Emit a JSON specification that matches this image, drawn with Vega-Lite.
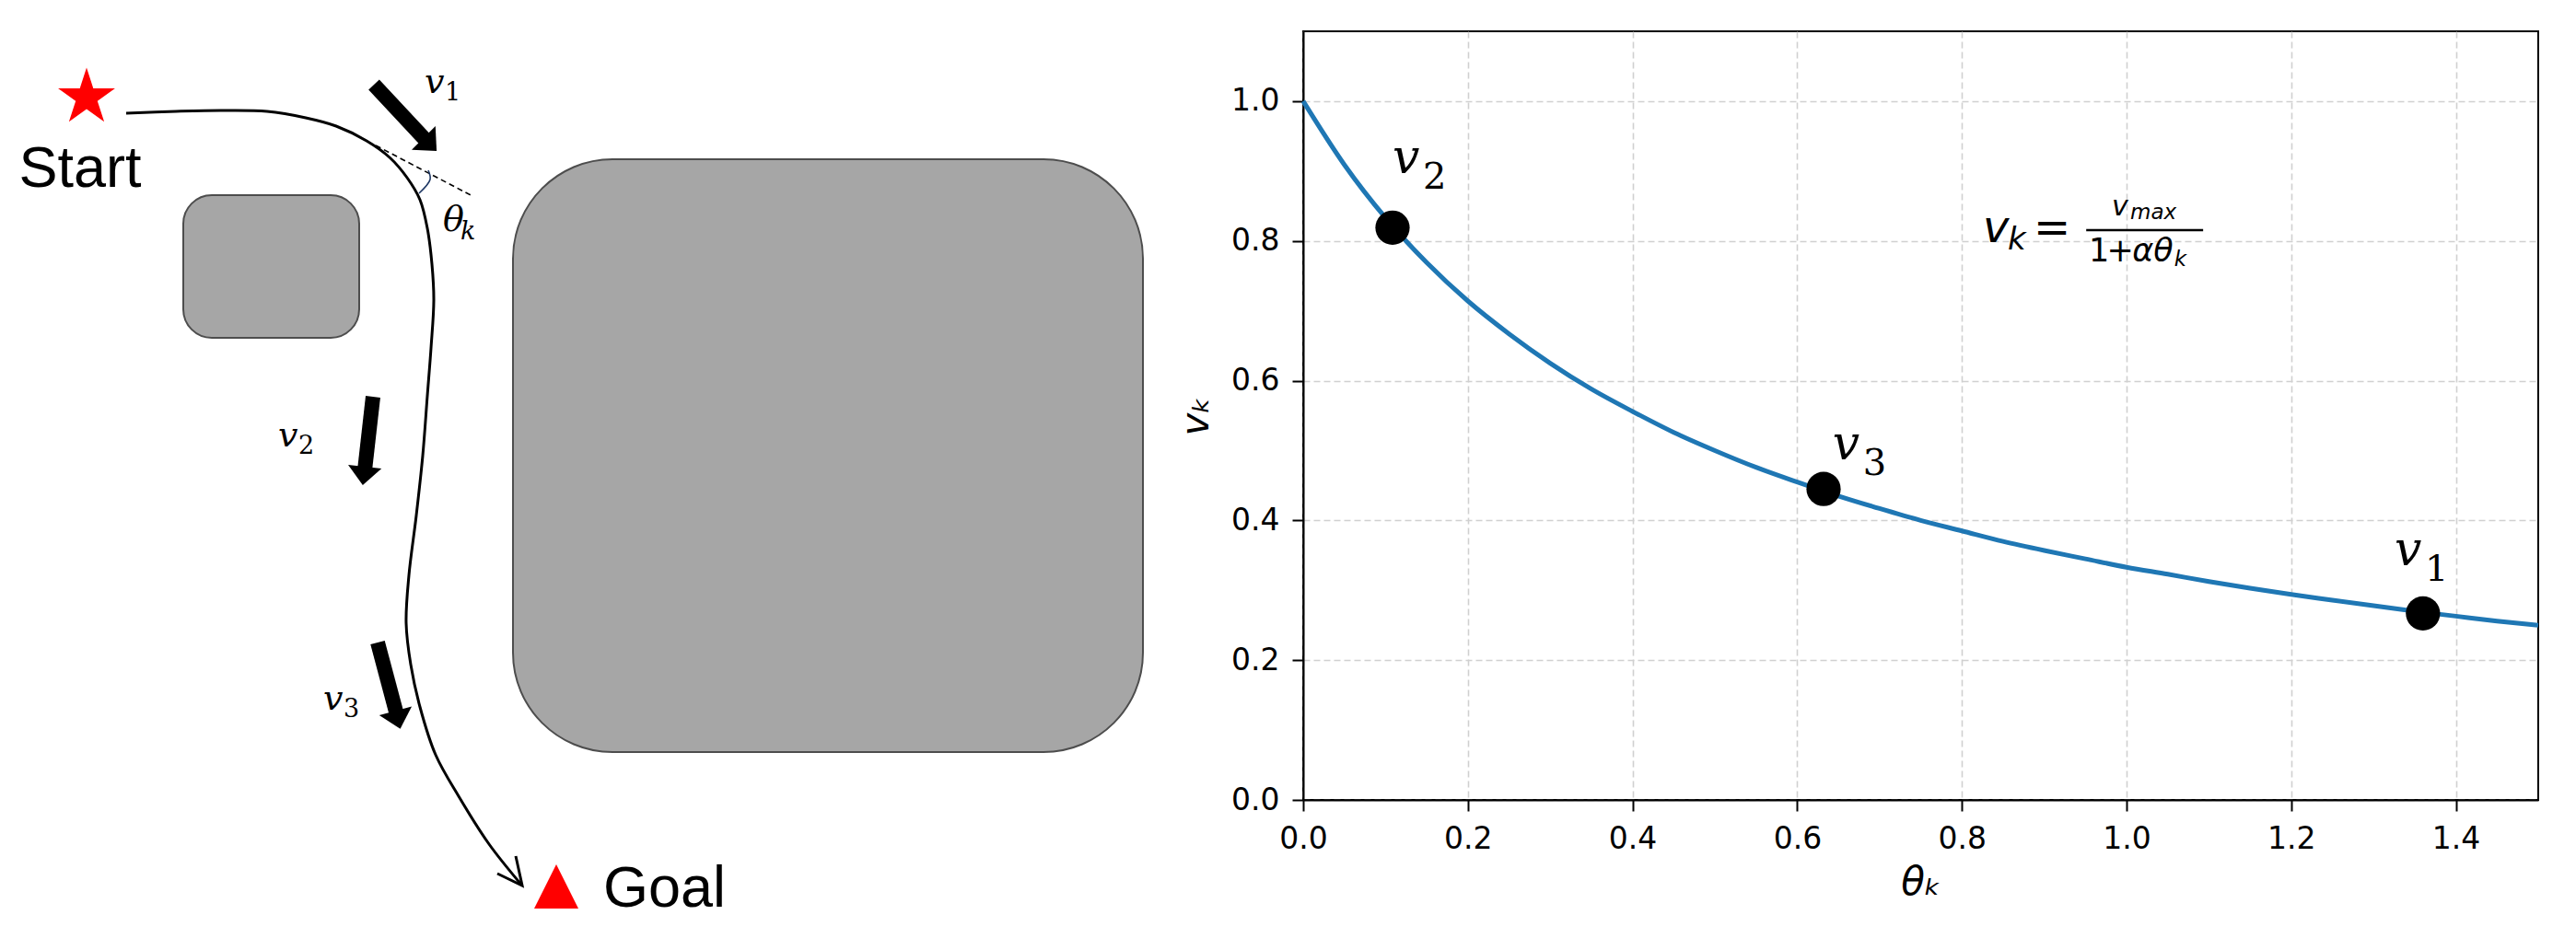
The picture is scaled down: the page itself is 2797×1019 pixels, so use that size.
{
  "$schema": "https://vega.github.io/schema/vega-lite/v6.json",
  "background": "white",
  "padding": {"left": 0, "top": 33, "right": 0, "bottom": 0},
  "bounds": "flush",
  "spacing": 115,
  "datasets": {
    "obstacles": [
      {"name": "small", "x": 199, "x2": 390, "y": 211, "y2": 366},
      {"name": "big", "x": 557, "x2": 1241, "y": 172, "y2": 816}
    ],
    "path": [
      {"i": 1, "x": 137, "y": 122}, {"i": 2, "x": 191, "y": 120}, {"i": 3, "x": 240, "y": 119},
      {"i": 4, "x": 290, "y": 120}, {"i": 5, "x": 332, "y": 127}, {"i": 6, "x": 365, "y": 136},
      {"i": 7, "x": 398, "y": 152}, {"i": 8, "x": 423, "y": 170}, {"i": 9, "x": 442, "y": 192},
      {"i": 10, "x": 456, "y": 216}, {"i": 11, "x": 464, "y": 247}, {"i": 12, "x": 469, "y": 286},
      {"i": 13, "x": 471, "y": 325}, {"i": 14, "x": 468, "y": 377}, {"i": 15, "x": 464, "y": 429},
      {"i": 16, "x": 459, "y": 494}, {"i": 17, "x": 452, "y": 559}, {"i": 18, "x": 444, "y": 624},
      {"i": 19, "x": 441, "y": 676}, {"i": 20, "x": 446, "y": 721}, {"i": 21, "x": 456, "y": 767},
      {"i": 22, "x": 473, "y": 819}, {"i": 23, "x": 498, "y": 864}, {"i": 24, "x": 531, "y": 916},
      {"i": 25, "x": 566, "y": 960}
    ],
    "chevron": [
      {"i": 1, "x": 560, "y": 929}, {"i": 2, "x": 567, "y": 961}, {"i": 3, "x": 540, "y": 948}
    ],
    "arrows": [
      {"name": "v1", "x": 406, "y": 91, "x2": 462, "y2": 151, "hx": 467, "hy": 156, "heading": -45},
      {"name": "v2", "x": 405, "y": 430, "x2": 396, "y2": 510, "hx": 395, "hy": 516, "heading": 6.5},
      {"name": "v3", "x": 410, "y": 697, "x2": 431, "y2": 776, "hx": 432, "hy": 781, "heading": -14.9}
    ],
    "tangent": [{"x": 408, "y": 157, "x2": 513, "y2": 212}],
    "arc": [{"i": 1, "x": 465, "y": 184}, {"i": 2, "x": 467, "y": 194}, {"i": 3, "x": 455, "y": 209}],
    "markers": [
      {"name": "Start", "x": 94, "y": 105},
      {"name": "Goal", "x": 604, "y": 962}
    ],
    "words": [
      {"t": "Start", "x": 87, "y": 202},
      {"t": "Goal", "x": 655, "y": 984}
    ],
    "leftLabels": [
      {"m": "v", "s": "1", "x": 461, "y": 100},
      {"m": "v", "s": "2", "x": 302, "y": 484},
      {"m": "v", "s": "3", "x": 351, "y": 770},
      {"m": "θ", "s": "k", "x": 481, "y": 250}
    ],
    "curve": [
      {"th": 0.0, "v": 1.0}, {"th": 0.05, "v": 0.909}, {"th": 0.1, "v": 0.833}, {"th": 0.15, "v": 0.769},
      {"th": 0.2, "v": 0.714}, {"th": 0.25, "v": 0.667}, {"th": 0.3, "v": 0.625}, {"th": 0.35, "v": 0.588},
      {"th": 0.4, "v": 0.556}, {"th": 0.45, "v": 0.526}, {"th": 0.5, "v": 0.5}, {"th": 0.55, "v": 0.476},
      {"th": 0.6, "v": 0.455}, {"th": 0.65, "v": 0.435}, {"th": 0.7, "v": 0.417}, {"th": 0.75, "v": 0.4},
      {"th": 0.8, "v": 0.385}, {"th": 0.85, "v": 0.37}, {"th": 0.9, "v": 0.357}, {"th": 0.95, "v": 0.345},
      {"th": 1.0, "v": 0.333}, {"th": 1.05, "v": 0.323}, {"th": 1.1, "v": 0.3125}, {"th": 1.15, "v": 0.303},
      {"th": 1.2, "v": 0.294}, {"th": 1.25, "v": 0.286}, {"th": 1.3, "v": 0.278}, {"th": 1.35, "v": 0.27},
      {"th": 1.4, "v": 0.263}, {"th": 1.45, "v": 0.256}, {"th": 1.5, "v": 0.25}
    ],
    "points": [
      {"name": "v2", "th": 0.1085, "v": 0.819},
      {"name": "v3", "th": 0.632, "v": 0.445},
      {"name": "v1", "th": 1.36, "v": 0.267}
    ],
    "pointLabels": [
      {"m": "v", "s": "2", "th": 0.1085, "v": 0.897},
      {"m": "v", "s": "3", "th": 0.643, "v": 0.4874},
      {"m": "v", "s": "1", "th": 1.3255, "v": 0.336}
    ],
    "formula": [
      {"role": "lhs_v", "t": "v", "th": 0.8255, "v": 0.798},
      {"role": "lhs_k", "t": "k", "th": 0.8557, "v": 0.788},
      {"role": "eq", "t": "=", "th": 0.887, "v": 0.798},
      {"role": "num_v", "t": "v", "th": 0.982, "v": 0.8365},
      {"role": "num_max", "t": "max", "th": 1.0045, "v": 0.831},
      {"role": "den_1", "t": "1", "th": 0.954, "v": 0.7707},
      {"role": "den_plus", "t": "+", "th": 0.976, "v": 0.7707},
      {"role": "den_ab", "t": "αθ", "th": 1.007, "v": 0.7707},
      {"role": "den_k", "t": "k", "th": 1.058, "v": 0.7642}
    ],
    "bar": [{"th": 0.951, "th2": 1.093, "v": 0.8154}]
  },
  "hconcat": [
    {
      "width": 1300,
      "height": 986,
      "encoding": {
        "x": {"field": "x", "type": "quantitative", "scale": {"domain": [0, 1300], "nice": false, "zero": false}, "axis": null},
        "y": {"field": "y", "type": "quantitative", "scale": {"domain": [33, 1019], "reverse": true, "nice": false, "zero": false}, "axis": null}
      },
      "layer": [
        {
          "data": {"name": "obstacles"},
          "transform": [{"filter": "datum.name === 'small'"}],
          "mark": {"type": "rect", "cornerRadius": 31, "fill": "#a6a6a6", "stroke": "#4d4d4d", "strokeWidth": 2},
          "encoding": {"x2": {"field": "x2"}, "y2": {"field": "y2"}}
        },
        {
          "data": {"name": "obstacles"},
          "transform": [{"filter": "datum.name === 'big'"}],
          "mark": {"type": "rect", "cornerRadius": 108, "fill": "#a6a6a6", "stroke": "#4d4d4d", "strokeWidth": 2},
          "encoding": {"x2": {"field": "x2"}, "y2": {"field": "y2"}}
        },
        {
          "data": {"name": "path"},
          "mark": {"type": "line", "color": "black", "strokeWidth": 3, "interpolate": "catmull-rom"},
          "encoding": {"order": {"field": "i", "type": "quantitative"}}
        },
        {
          "data": {"name": "chevron"},
          "mark": {"type": "line", "color": "black", "strokeWidth": 3, "strokeJoin": "miter"},
          "encoding": {"order": {"field": "i", "type": "quantitative"}}
        },
        {
          "data": {"name": "tangent"},
          "mark": {"type": "rule", "color": "black", "strokeWidth": 1.6, "strokeDash": [6, 4]},
          "encoding": {"x2": {"field": "x2"}, "y2": {"field": "y2"}}
        },
        {
          "data": {"name": "arc"},
          "mark": {"type": "line", "color": "#1f3864", "strokeWidth": 1.6, "interpolate": "catmull-rom"},
          "encoding": {"order": {"field": "i", "type": "quantitative"}}
        },
        {
          "data": {"name": "arrows"},
          "mark": {"type": "rule", "color": "black", "strokeWidth": 16, "strokeCap": "butt"},
          "encoding": {"x2": {"field": "x2"}, "y2": {"field": "y2"}}
        },
        {
          "data": {"name": "arrows"},
          "mark": {"type": "point", "shape": "M-1,-0.55L0,0.55L1,-0.55Z", "filled": true, "color": "black", "opacity": 1, "size": 1330, "strokeWidth": 0},
          "encoding": {
            "x": {"field": "hx", "type": "quantitative"},
            "y": {"field": "hy", "type": "quantitative"},
            "angle": {"field": "heading", "type": "quantitative", "scale": null}
          }
        },
        {
          "data": {"name": "markers"},
          "transform": [{"filter": "datum.name === 'Start'"}],
          "mark": {"type": "point", "shape": "M0,-1L0.2245,-0.309L0.951,-0.309L0.363,0.118L0.588,0.809L0,0.382L-0.588,0.809L-0.363,0.118L-0.951,-0.309L-0.2245,-0.309Z", "filled": true, "color": "#ff0000", "opacity": 1, "size": 4230, "strokeWidth": 0}
        },
        {
          "data": {"name": "markers"},
          "transform": [{"filter": "datum.name === 'Goal'"}],
          "mark": {"type": "point", "shape": "M0,-1L1,1L-1,1Z", "filled": true, "color": "#ff0000", "opacity": 1, "size": 2304, "strokeWidth": 0}
        },
        {
          "data": {"name": "words"},
          "transform": [{"filter": "datum.t === 'Start'"}],
          "mark": {"type": "text", "font": "Liberation Sans", "fontSize": 63, "align": "center", "baseline": "alphabetic", "color": "black"},
          "encoding": {"text": {"field": "t"}}
        },
        {
          "data": {"name": "words"},
          "transform": [{"filter": "datum.t === 'Goal'"}],
          "mark": {"type": "text", "font": "Liberation Sans", "fontSize": 63, "align": "left", "baseline": "alphabetic", "color": "black"},
          "encoding": {"text": {"field": "t"}}
        },
        {
          "data": {"name": "leftLabels"},
          "mark": {"type": "text", "font": "DejaVu Serif", "fontStyle": "italic", "fontSize": 38, "align": "left", "baseline": "alphabetic", "color": "black"},
          "encoding": {"text": {"field": "m"}}
        },
        {
          "data": {"name": "leftLabels"},
          "transform": [{"filter": "datum.s !== 'k'"}],
          "mark": {"type": "text", "font": "DejaVu Serif", "fontSize": 27, "align": "left", "baseline": "alphabetic", "dx": 22, "dy": 8, "color": "black"},
          "encoding": {"text": {"field": "s"}}
        },
        {
          "data": {"name": "leftLabels"},
          "transform": [{"filter": "datum.s === 'k'"}],
          "mark": {"type": "text", "font": "DejaVu Serif", "fontStyle": "italic", "fontSize": 27, "align": "left", "baseline": "alphabetic", "dx": 19, "dy": 9, "color": "black"},
          "encoding": {"text": {"field": "s"}}
        }
      ]
    },
    {
      "width": 1341,
      "height": 835,
      "view": {"stroke": "black", "strokeWidth": 2},
      "encoding": {
        "x": {
          "field": "th", "type": "quantitative",
          "scale": {"domain": [0, 1.5], "nice": false, "zero": false},
          "axis": {"values": [0, 0.2, 0.4, 0.6, 0.8, 1.0, 1.2, 1.4], "format": ".1f", "title": "θₖ", "titleFontStyle": "italic", "titlePadding": 10}
        },
        "y": {
          "field": "v", "type": "quantitative",
          "scale": {"domain": [0, 1.1], "nice": false, "zero": false},
          "axis": {"values": [0, 0.2, 0.4, 0.6, 0.8, 1.0], "format": ".1f", "title": "vₖ", "titleFontStyle": "italic", "titlePadding": 16}
        }
      },
      "layer": [
        {
          "data": {"name": "curve"},
          "mark": {"type": "line", "color": "#1f77b4", "strokeWidth": 5, "interpolate": "monotone"}
        },
        {
          "data": {"name": "points"},
          "mark": {"type": "point", "shape": "circle", "filled": true, "color": "black", "opacity": 1, "size": 1385}
        },
        {
          "data": {"name": "pointLabels"},
          "mark": {"type": "text", "font": "DejaVu Serif", "fontStyle": "italic", "fontSize": 52, "align": "left", "baseline": "alphabetic", "color": "black"},
          "encoding": {"text": {"field": "m"}}
        },
        {
          "data": {"name": "pointLabels"},
          "mark": {"type": "text", "font": "DejaVu Serif", "fontSize": 40, "align": "left", "baseline": "alphabetic", "dx": 33, "dy": 17, "color": "black"},
          "encoding": {"text": {"field": "s"}}
        },
        {
          "data": {"name": "formula"},
          "transform": [{"filter": "datum.role === 'lhs_v'"}],
          "mark": {"type": "text", "fontStyle": "italic", "fontSize": 48, "align": "left", "baseline": "alphabetic", "color": "black"},
          "encoding": {"text": {"field": "t"}}
        },
        {
          "data": {"name": "formula"},
          "transform": [{"filter": "datum.role === 'lhs_k'"}],
          "mark": {"type": "text", "fontStyle": "italic", "fontSize": 34, "align": "left", "baseline": "alphabetic", "color": "black"},
          "encoding": {"text": {"field": "t"}}
        },
        {
          "data": {"name": "formula"},
          "transform": [{"filter": "datum.role === 'eq'"}],
          "mark": {"type": "text", "fontSize": 48, "align": "left", "baseline": "alphabetic", "color": "black"},
          "encoding": {"text": {"field": "t"}}
        },
        {
          "data": {"name": "formula"},
          "transform": [{"filter": "datum.role === 'num_v'"}],
          "mark": {"type": "text", "fontStyle": "italic", "fontSize": 30, "align": "left", "baseline": "alphabetic", "color": "black"},
          "encoding": {"text": {"field": "t"}}
        },
        {
          "data": {"name": "formula"},
          "transform": [{"filter": "datum.role === 'num_max' || datum.role === 'den_k'"}],
          "mark": {"type": "text", "fontStyle": "italic", "fontSize": 23, "align": "left", "baseline": "alphabetic", "color": "black"},
          "encoding": {"text": {"field": "t"}}
        },
        {
          "data": {"name": "formula"},
          "transform": [{"filter": "datum.role === 'den_1' || datum.role === 'den_plus'"}],
          "mark": {"type": "text", "fontSize": 35, "align": "left", "baseline": "alphabetic", "color": "black"},
          "encoding": {"text": {"field": "t"}}
        },
        {
          "data": {"name": "formula"},
          "transform": [{"filter": "datum.role === 'den_ab'"}],
          "mark": {"type": "text", "fontStyle": "italic", "fontSize": 35, "align": "left", "baseline": "alphabetic", "color": "black"},
          "encoding": {"text": {"field": "t"}}
        },
        {
          "data": {"name": "bar"},
          "mark": {"type": "rule", "color": "black", "strokeWidth": 2.5},
          "encoding": {"x2": {"field": "th2"}}
        }
      ]
    }
  ],
  "config": {
    "view": {"stroke": null},
    "font": "DejaVu Sans",
    "axis": {
      "domain": true,
      "domainColor": "black",
      "domainWidth": 2,
      "ticks": true,
      "tickColor": "black",
      "tickWidth": 2,
      "tickSize": 12,
      "labelFont": "DejaVu Sans",
      "labelFontSize": 33,
      "labelColor": "black",
      "labelPadding": 14,
      "labelFlush": false,
      "labelOverlap": false,
      "titleFont": "DejaVu Sans",
      "titleFontSize": 42,
      "titleFontWeight": "normal",
      "titleColor": "black",
      "grid": true,
      "gridColor": "#d0d0d0",
      "gridWidth": 1.6,
      "gridDash": [7, 4]
    }
  }
}
